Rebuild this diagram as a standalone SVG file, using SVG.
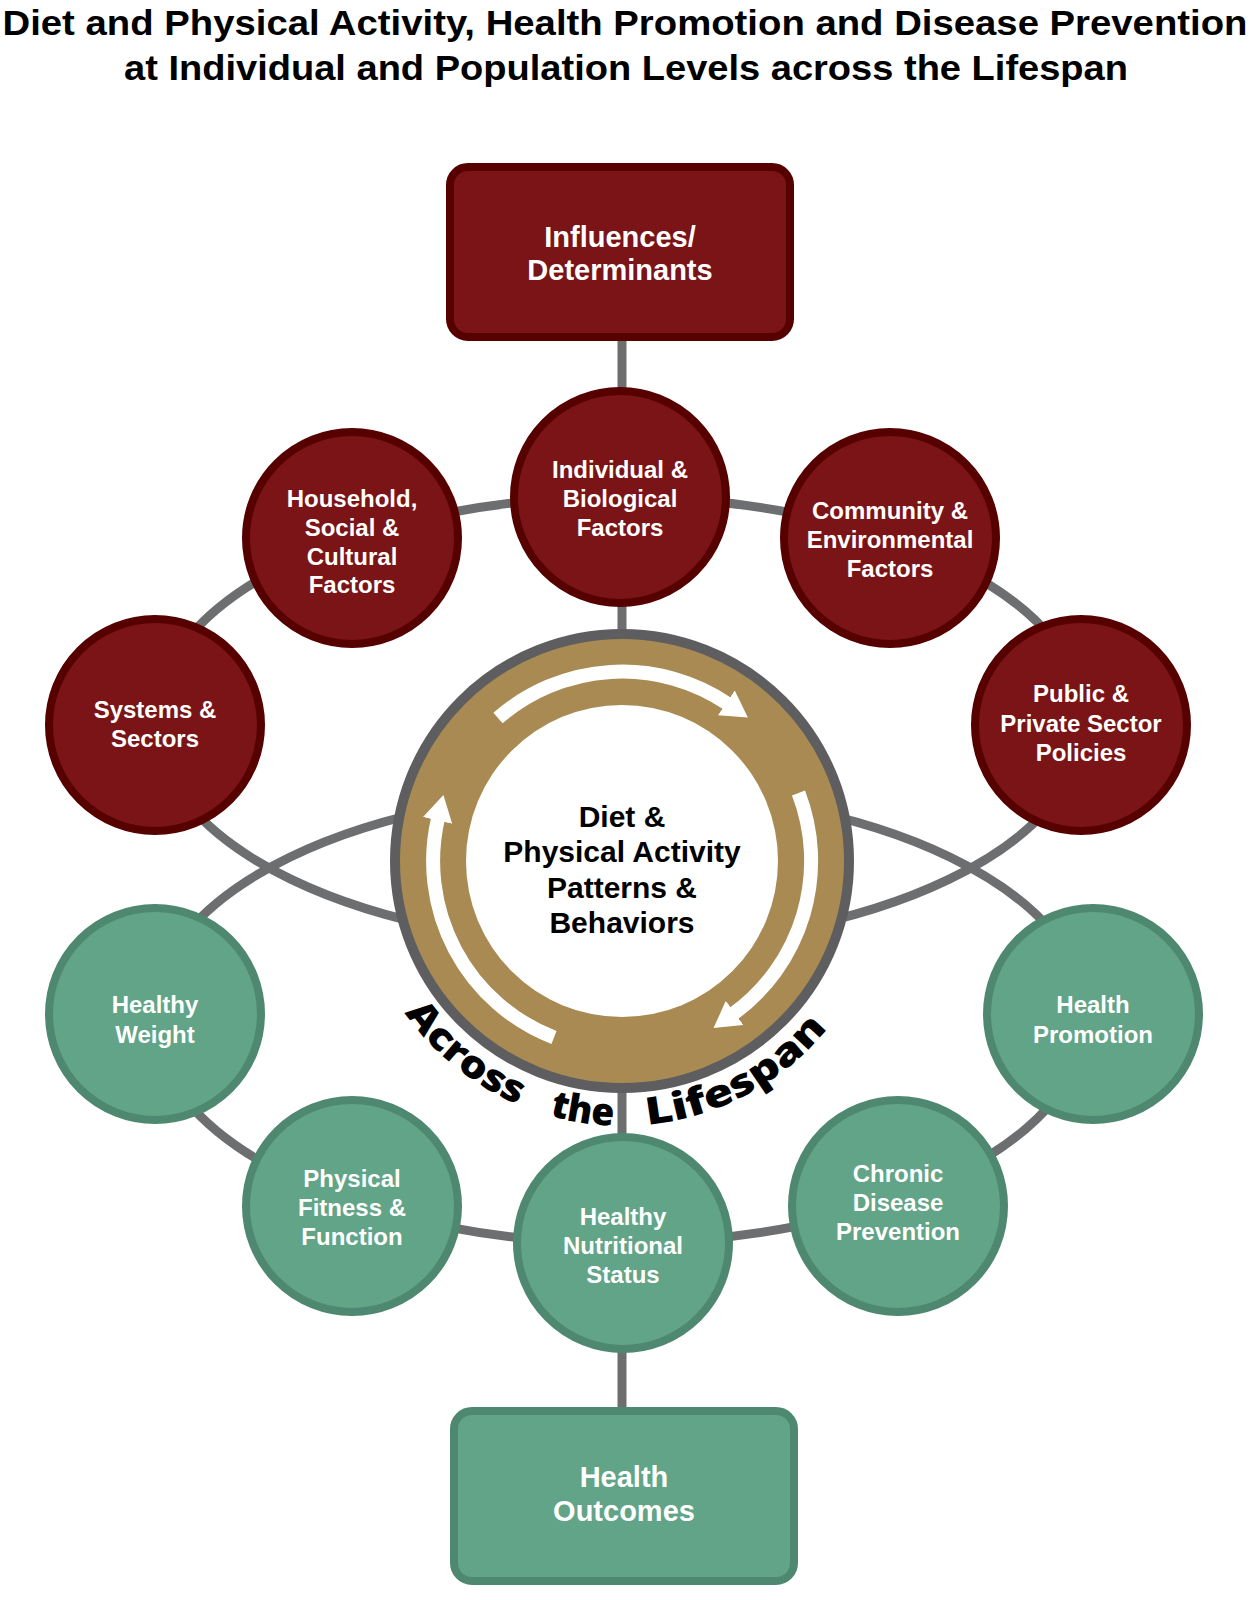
<svg xmlns="http://www.w3.org/2000/svg" width="1251" height="1600" viewBox="0 0 1251 1600">
<style>
.t{font-family:"Liberation Sans",Arial,sans-serif;font-weight:bold;text-anchor:middle}
.title{font-size:35px;fill:#000}
.nt{font-size:24px;fill:#fff}
.bt{font-size:29px;fill:#fff}
.ct{font-size:30px;fill:#000}
.ls{font-size:38px;fill:#000;font-family:"Open Sans","Liberation Sans",sans-serif;font-weight:800}
.red{fill:#7a1416;stroke:#560000;stroke-width:8}
.grn{fill:#62a487;stroke:#4e8870;stroke-width:8}
.con{fill:none;stroke:#6d6e70;stroke-width:9}
.arr{fill:none;stroke:#fff;stroke-width:14}
</style>
<defs>
<marker id="ah" markerUnits="userSpaceOnUse" markerWidth="26" markerHeight="30" viewBox="0 0 26 30" refX="2" refY="15" orient="auto"><path d="M0,0 L26,15 L0,30 Z" fill="#fff"/></marker>
<path id="lsp" d="M373,951.6 A265,265 0 0 0 871,951.6"/>
</defs>
<rect width="1251" height="1600" fill="#fff"/>
<text class="t title" x="625" y="35" textLength="1245" lengthAdjust="spacingAndGlyphs">Diet and Physical Activity, Health Promotion and Disease Prevention</text>
<text class="t title" x="626" y="80" textLength="1004" lengthAdjust="spacingAndGlyphs">at Individual and Population Levels across the Lifespan</text>
<g id="connectors">
<line class="con" x1="622" y1="341" x2="622" y2="1407" stroke="#5e5e60"/>
<ellipse class="con" cx="620" cy="721" rx="465" ry="224"/>
<ellipse class="con" cx="620" cy="1017" rx="467" ry="226"/>
</g>
<g id="center">
<circle cx="622" cy="861" r="227" fill="#a88a52" stroke="#5e5e60" stroke-width="10"/>
<circle cx="622" cy="861" r="156" fill="#fff"/>
<path class="arr" d="M498,718 A189,189 0 0 1 728,704" marker-end="url(#ah)"/>
<path class="arr" d="M798.5,793 A189,189 0 0 1 733,1014" marker-end="url(#ah)"/>
<path class="arr" d="M554,1037.5 A189,189 0 0 1 438,818.5" marker-end="url(#ah)"/>
<text class="t ct" x="622" y="827">Diet &amp;</text>
<text class="t ct" x="622" y="862">Physical Activity</text>
<text class="t ct" x="622" y="898">Patterns &amp;</text>
<text class="t ct" x="622" y="933">Behaviors</text>
<text class="ls"><textPath href="#lsp" startOffset="69" textLength="148" lengthAdjust="spacingAndGlyphs">Across</textPath></text>
<text class="ls"><textPath href="#lsp" startOffset="250" textLength="65" lengthAdjust="spacingAndGlyphs">the</textPath></text>
<text class="ls"><textPath href="#lsp" startOffset="349" textLength="210" lengthAdjust="spacingAndGlyphs">Lifespan</textPath></text>
</g>
<g id="influences"><rect class="red" x="450" y="167" width="340" height="170" rx="18"/>
<text class="t bt" x="620" y="247">Influences/</text><text class="t bt" x="620" y="280">Determinants</text></g>
<g id="individual"><circle class="red" cx="620" cy="497" r="106"/>
<text class="t nt" x="620" y="478">Individual &amp;</text><text class="t nt" x="620" y="507">Biological</text><text class="t nt" x="620" y="536">Factors</text></g>
<g id="household"><circle class="red" cx="352" cy="538" r="106"/>
<text class="t nt" x="352" y="507">Household,</text><text class="t nt" x="352" y="536">Social &amp;</text><text class="t nt" x="352" y="565">Cultural</text><text class="t nt" x="352" y="593">Factors</text></g>
<g id="community"><circle class="red" cx="890" cy="538" r="106"/>
<text class="t nt" x="890" y="519">Community &amp;</text><text class="t nt" x="890" y="548">Environmental</text><text class="t nt" x="890" y="577">Factors</text></g>
<g id="systems"><circle class="red" cx="155" cy="725" r="106"/>
<text class="t nt" x="155" y="718">Systems &amp;</text><text class="t nt" x="155" y="747">Sectors</text></g>
<g id="public"><circle class="red" cx="1081" cy="725" r="106"/>
<text class="t nt" x="1081" y="702">Public &amp;</text><text class="t nt" x="1081" y="732">Private Sector</text><text class="t nt" x="1081" y="761">Policies</text></g>
<g id="weight"><circle class="grn" cx="155" cy="1014" r="106"/>
<text class="t nt" x="155" y="1013">Healthy</text><text class="t nt" x="155" y="1043">Weight</text></g>
<g id="promotion"><circle class="grn" cx="1093" cy="1014" r="106"/>
<text class="t nt" x="1093" y="1013">Health</text><text class="t nt" x="1093" y="1043">Promotion</text></g>
<g id="fitness"><circle class="grn" cx="352" cy="1206" r="106"/>
<text class="t nt" x="352" y="1187">Physical</text><text class="t nt" x="352" y="1216">Fitness &amp;</text><text class="t nt" x="352" y="1245">Function</text></g>
<g id="nutritional"><circle class="grn" cx="623" cy="1243" r="106"/>
<text class="t nt" x="623" y="1225">Healthy</text><text class="t nt" x="623" y="1254">Nutritional</text><text class="t nt" x="623" y="1283">Status</text></g>
<g id="chronic"><circle class="grn" cx="898" cy="1206" r="106"/>
<text class="t nt" x="898" y="1182">Chronic</text><text class="t nt" x="898" y="1211">Disease</text><text class="t nt" x="898" y="1240">Prevention</text></g>
<g id="outcomes"><rect class="grn" x="454" y="1411" width="340" height="170" rx="18"/>
<text class="t bt" x="624" y="1487">Health</text><text class="t bt" x="624" y="1521">Outcomes</text></g>
</svg>
